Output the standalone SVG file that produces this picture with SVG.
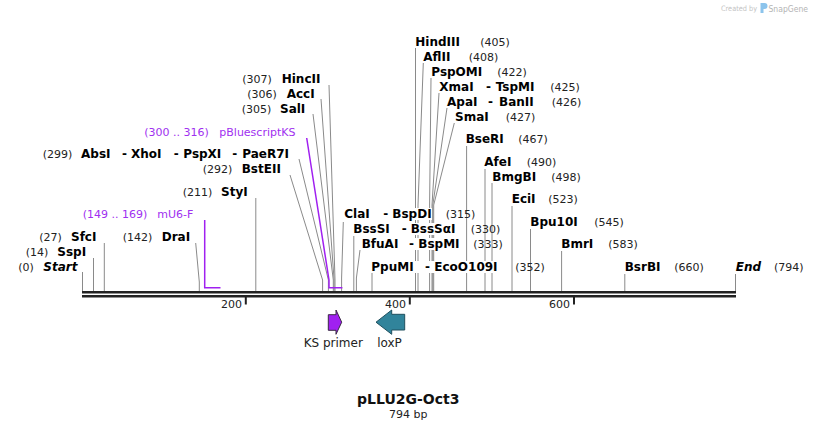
<svg xmlns="http://www.w3.org/2000/svg" width="818" height="430" viewBox="0 0 818 430">
<style>
text{font-family:"DejaVu Sans",Verdana,sans-serif;}
.nm{font-size:12px;font-weight:bold;fill:#000;}
.it{font-size:12px;font-weight:bold;font-style:italic;fill:#000;}
.num{font-size:11px;fill:#222;}
.pr{font-size:11px;fill:#a030f0;}
.ln{stroke:#8a8a8a;stroke-width:1;fill:none;}
.pl{stroke:#a020f0;stroke-width:1.5;fill:none;}
.bg{fill:#fff;}
.tk{font-size:11px;fill:#222;text-anchor:end;}
.ft{font-size:12px;fill:#222;text-anchor:middle;}
</style>
<rect width="818" height="430" fill="#fff"/>

<g id="watermark">
<text x="721" y="11" textLength="36" lengthAdjust="spacingAndGlyphs" style="font-size:7.5px;fill:#c4c4c4">Created by</text>
<path d="M760.5,3 h4 a3,3 0 0 1 0,6 h-1 v4 h-3 z" fill="#8cc4ec"/>
<text x="768.5" y="11.5" textLength="39.5" lengthAdjust="spacingAndGlyphs" style="font-size:9px;fill:#b4b4b4">SnapGene</text>
</g>

<g id="connectors">
<line class="ln" x1="82.5" y1="272" x2="82.5" y2="291"/>
<line class="ln" x1="93.5" y1="258" x2="93.5" y2="291"/>
<line class="ln" x1="104.3" y1="243" x2="104.3" y2="291"/>
<polyline class="ln" points="195.7,243 199.3,282 199.3,291"/>
<line class="ln" x1="255.8" y1="198" x2="255.8" y2="291"/>
<polyline class="ln" points="290,175 322.6,280 322.6,291"/>
<polyline class="ln" points="299,159 328.4,280 328.4,291"/>
<polyline class="ln" points="313,114 333.3,280 333.3,291"/>
<polyline class="ln" points="321,99 334.1,280 334.1,291"/>
<polyline class="ln" points="329,85 335,280 335,291"/>
<polyline class="ln" points="343.3,222 341.6,278 341.6,291"/>
<line class="ln" x1="353.8" y1="236" x2="353.8" y2="291"/>
<polyline class="ln" points="360,250 356.4,278 356.4,291"/>
<line class="ln" x1="372" y1="273" x2="372" y2="291"/>
<line class="ln" x1="415.5" y1="48" x2="415.5" y2="291"/>
<polyline class="ln" points="423.3,63 418,205 418,291"/>
<polyline class="ln" points="431,78 429.6,205 429.6,291"/>
<polyline class="ln" points="439,93 432,205 432,291"/>
<polyline class="ln" points="447,108 432.8,205 432.8,291"/>
<polyline class="ln" points="454.3,123 433.7,205 433.7,291"/>
<line class="ln" x1="466.6" y1="146" x2="466.6" y2="291"/>
<line class="ln" x1="485" y1="169" x2="485" y2="291"/>
<line class="ln" x1="492" y1="183" x2="492" y2="291"/>
<line class="ln" x1="512" y1="206" x2="512" y2="291"/>
<line class="ln" x1="530.5" y1="229" x2="530.5" y2="291"/>
<line class="ln" x1="561.6" y1="251" x2="561.6" y2="291"/>
<line class="ln" x1="624.8" y1="274" x2="624.8" y2="291"/>
<line class="ln" x1="735.5" y1="274" x2="735.5" y2="291"/>
<polyline class="pl" points="204.7,220 204.7,287.7 220.5,287.7"/>
<polyline class="pl" points="306.7,138 329,280 329,287.7 342.4,287.7"/>
</g>

<g id="backbone">
<line x1="82" y1="292.2" x2="736" y2="292.2" stroke="#222" stroke-width="2.4"/>
<line x1="82" y1="296.2" x2="736" y2="296.2" stroke="#222" stroke-width="2.4"/>
<line x1="245.8" y1="297" x2="245.8" y2="304.5" stroke="#222" stroke-width="2"/>
<line x1="409.8" y1="297" x2="409.8" y2="304.5" stroke="#222" stroke-width="2"/>
<line x1="574" y1="297" x2="574" y2="304.5" stroke="#222" stroke-width="2"/>
<text class="tk" x="242" y="308">200</text>
<text class="tk" x="406" y="308">400</text>
<text class="tk" x="570" y="308">600</text>
</g>

<g id="start"><text class="num" x="18.3" y="270.7">(0)</text><text class="it" x="43.3" y="270.7">Start</text></g>
<g id="sspi"><text class="num" x="25.7" y="255.7">(14)</text><text class="nm" x="57.3" y="255.7">SspI</text></g>
<g id="sfci"><text class="num" x="39.3" y="240.7">(27)</text><text class="nm" x="71" y="240.7">SfcI</text></g>
<g id="drai"><text class="num" x="122.7" y="240.7">(142)</text><text class="nm" x="161.7" y="240.7">DraI</text></g>
<g id="mu6f"><text class="pr" x="82.7" y="217.7">(149 .. 169)</text><text class="pr" x="157.3" y="217.7">mU6-F</text></g>
<g id="styi"><text class="num" x="182.7" y="196">(211)</text><text class="nm" x="221" y="196">StyI</text></g>
<g id="bsteii"><text class="num" x="202.7" y="172.7">(292)</text><text class="nm" x="241.7" y="172.7">BstEII</text></g>
<g id="absi"><text class="num" x="42.7" y="157.7">(299)</text><text class="nm" x="81" y="157.7">AbsI</text><text class="nm" x="122" y="157.7">-</text><text class="nm" x="131" y="157.7">XhoI</text><text class="nm" x="173.7" y="157.7">-</text><text class="nm" x="183.3" y="157.7">PspXI</text><text class="nm" x="232.3" y="157.7">-</text><text class="nm" x="242.3" y="157.7">PaeR7I</text></g>
<g id="pbluescriptks"><text class="pr" x="144.3" y="135.7">(300 .. 316)</text><text class="pr" x="219.3" y="135.7">pBluescriptKS</text></g>
<g id="sali"><text class="num" x="241.7" y="112.7">(305)</text><text class="nm" x="280" y="112.7">SalI</text></g>
<g id="acci"><text class="num" x="247.3" y="97.7">(306)</text><text class="nm" x="286.7" y="97.7">AccI</text></g>
<g id="hincii"><text class="num" x="242.3" y="82.7">(307)</text><text class="nm" x="281.7" y="82.7">HincII</text></g>

<g id="clai"><rect class="bg" x="343" y="208" width="89" height="12"/><text class="nm" x="344.3" y="217.7">ClaI</text><text class="nm" x="383.3" y="217.7">-</text><text class="nm" x="392.3" y="217.7">BspDI</text><text class="num" x="445.7" y="217.7">(315)</text></g>
<g id="bsssi"><rect class="bg" x="352" y="223" width="106" height="12"/><text class="nm" x="353.3" y="232.7">BssSI</text><text class="nm" x="401.7" y="232.7">-</text><text class="nm" x="410.7" y="232.7">BssSαI</text><text class="num" x="470.7" y="232.7">(330)</text></g>
<g id="bfuai"><rect class="bg" x="360.5" y="238" width="100" height="12"/><text class="nm" x="361.7" y="247.7">BfuAI</text><text class="nm" x="409" y="247.7">-</text><text class="nm" x="418.3" y="247.7">BspMI</text><text class="num" x="473.3" y="247.7">(333)</text></g>
<g id="ppumi"><rect class="bg" x="370" y="261" width="129" height="12"/><text class="nm" x="371.3" y="270.7">PpuMI</text><text class="nm" x="425" y="270.7">-</text><text class="nm" x="434.3" y="270.7">EcoO109I</text><text class="num" x="515.3" y="270.7">(352)</text></g>

<g id="hindiii"><text class="nm" x="415.3" y="45.7">HindIII</text><text class="num" x="480.3" y="45.7">(405)</text></g>
<g id="aflii"><text class="nm" x="423.3" y="60.7">AflII</text><text class="num" x="468.7" y="60.7">(408)</text></g>
<g id="pspomi"><text class="nm" x="431.3" y="75.7">PspOMI</text><text class="num" x="497.3" y="75.7">(422)</text></g>
<g id="xmai"><text class="nm" x="439.3" y="91">XmaI</text><text class="nm" x="486" y="91">-</text><text class="nm" x="495.7" y="91">TspMI</text><text class="num" x="550.3" y="91">(425)</text></g>
<g id="apai"><text class="nm" x="447" y="106">ApaI</text><text class="nm" x="488" y="106">-</text><text class="nm" x="499" y="106">BanII</text><text class="num" x="551.7" y="106">(426)</text></g>
<g id="smai"><text class="nm" x="455" y="121">SmaI</text><text class="num" x="505.7" y="121">(427)</text></g>
<g id="bseri"><text class="nm" x="465.7" y="142.7">BseRI</text><text class="num" x="518.3" y="142.7">(467)</text></g>
<g id="afei"><text class="nm" x="484.3" y="165.7">AfeI</text><text class="num" x="526.7" y="165.7">(490)</text></g>
<g id="bmgbi"><text class="nm" x="492.3" y="180.7">BmgBI</text><text class="num" x="551.3" y="180.7">(498)</text></g>
<g id="ecii"><text class="nm" x="511.7" y="202.7">EciI</text><text class="num" x="548.3" y="202.7">(523)</text></g>
<g id="bpu10i"><text class="nm" x="530.3" y="225.7">Bpu10I</text><text class="num" x="594.3" y="225.7">(545)</text></g>
<g id="bmri"><text class="nm" x="561.3" y="248">BmrI</text><text class="num" x="608.3" y="248">(583)</text></g>
<g id="bsrbi"><text class="nm" x="624.7" y="270.7">BsrBI</text><text class="num" x="674.3" y="270.7">(660)</text></g>
<g id="end"><text class="it" x="735.7" y="270.7">End</text><text class="num" x="774" y="270.7">(794)</text></g>

<g id="ks-primer">
<path d="M328.3,314.7 H336 V310 L341.7,322.2 L336,334.3 V330.3 H328.3 Z" fill="#a020f0" stroke="#3a2a44" stroke-width="1"/>
<text class="ft" x="333.3" y="347">KS primer</text>
</g>
<g id="loxp">
<path d="M404.7,314.3 H391.7 V310 L376,322.2 L391.7,334.3 V330 H404.7 Z" fill="#31849b" stroke="#20505e" stroke-width="1"/>
<text class="ft" x="389.5" y="347">loxP</text>
</g>

<g id="title">
<text x="408.3" y="404" text-anchor="middle" style="font-size:14px;font-weight:bold;fill:#111">pLLU2G-Oct3</text>
<text x="408.3" y="417.5" text-anchor="middle" style="font-size:11px;fill:#222">794 bp</text>
</g>
</svg>
